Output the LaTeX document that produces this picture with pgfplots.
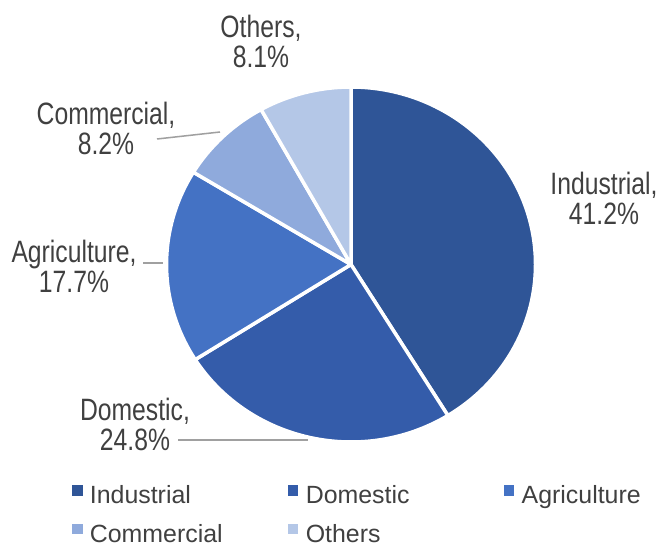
\documentclass[border=0pt]{standalone}
\usepackage{pgfplots}
\pgfplotsset{compat=1.18}
\usepackage{pgfplotstable}
\usepackage{fontspec}
\setmainfont{Liberation Sans}
\newfontfamily\narrow{Liberation Sans}[FakeStretch=0.8]

\definecolor{cInd}{RGB}{47,85,151}
\definecolor{cDom}{RGB}{52,92,170}
\definecolor{cAgr}{RGB}{68,114,196}
\definecolor{cCom}{RGB}{143,170,220}
\definecolor{cOth}{RGB}{180,199,231}
\definecolor{txt}{RGB}{64,64,64}
\definecolor{lead}{RGB}{160,160,160}

\pgfplotstableread{
name value
Industrial 41.2
Domestic 24.8
Agriculture 17.7
Commercial 8.2
Others 8.1
}\piedata

% pie centre and radii (axis units = bp)
\def\cx{351}
\def\cy{281.5}
\def\rx{184.5}
\def\ry{177.5}

\newcommand\getval[2]{\pgfplotstablegetelem{#1}{value}\of\piedata\global\let#2\pgfplotsretval}
\newcommand\pieslice[3]{%
  \fill[#1, draw=white, line width=3.5bp, line join=round]
    (axis cs:\cx,\cy) -- ++(#2:\rx bp and \ry bp)
    arc[start angle=#2, end angle=#3, x radius=\rx bp, y radius=\ry bp] -- cycle;}
\newcommand\lbl[4]{\node[anchor=base, text=txt, inner sep=0pt,
  font=\narrow\fontsize{31}{31}\selectfont] at (axis cs:#1,#2) {#3\vphantom{,}};
  \node[anchor=base, text=txt, inner sep=0pt,
  font=\narrow\fontsize{31}{31}\selectfont] at (axis cs:#1,#2-30) {#4};}

\begin{document}
\getval{0}\vInd
\getval{1}\vDom
\getval{2}\vAgr
\getval{3}\vCom
\getval{4}\vOth
% clockwise from 12 o'clock
\pgfmathsetmacro\aInd{90-3.6*\vInd}\global\let\aInd\aInd
\pgfmathsetmacro\aDom{\aInd-3.6*\vDom}\global\let\aDom\aDom
\pgfmathsetmacro\aAgr{\aDom-3.6*\vAgr}\global\let\aAgr\aAgr
\pgfmathsetmacro\aCom{\aAgr-3.6*\vCom}\global\let\aCom\aCom
\pgfmathsetmacro\aOth{\aCom-3.6*\vOth}\global\let\aOth\aOth
\begin{tikzpicture}
\begin{axis}[
    width=659bp, height=546bp, scale only axis,
    xmin=0, xmax=659, ymin=0, ymax=546,
    hide axis, clip=false,
    legend image code/.code={\fill[#1] (0bp,3bp) rectangle (9.5bp,12.5bp);},
    legend columns=3,
    legend style={at={(axis cs:72,61)}, anchor=north west, draw=none, fill=none,
      inner sep=0pt, outer sep=0pt,
      row sep=14bp, text=txt,
      font=\fontsize{25}{25}\selectfont,
      /tikz/every odd column/.append style={column sep=8bp},
      /tikz/every even column/.append style={column sep=6bp},
      nodes={inner sep=0pt, text height=18bp, text depth=6bp}},
  ]
  \addlegendimage{cInd}\addlegendentry{\makebox[192bp][l]{Industrial}}
  \addlegendimage{cDom}\addlegendentry{\makebox[192bp][l]{Domestic}}
  \addlegendimage{cAgr}\addlegendentry{\makebox[120bp][l]{Agriculture}}
  \addlegendimage{cCom}\addlegendentry{\makebox[192bp][l]{Commercial}}
  \addlegendimage{cOth}\addlegendentry{\makebox[192bp][l]{Others}}

  % keep the full frame as the picture's extent
  \path (axis cs:0,0) (axis cs:659,546);

  \pieslice{cInd}{90}{\aInd}
  \pieslice{cDom}{\aInd}{\aDom}
  \pieslice{cAgr}{\aDom}{\aAgr}
  \pieslice{cCom}{\aAgr}{\aCom}
  \pieslice{cOth}{\aCom}{\aOth}

  % leader lines
  \draw[lead, line width=1.5bp] (axis cs:157,407) -- (axis cs:220,414);
  \draw[lead, line width=1.5bp] (axis cs:143,283) -- (axis cs:163,283);
  \draw[lead, line width=1.5bp] (axis cs:178,106) -- (axis cs:308,106);

  % data labels (centre x, baseline y)
  \lbl{261}{508}{Others,}{8.1\%}
  \lbl{106}{421}{Commercial,}{8.2\%}
  \lbl{74}{283}{Agriculture,}{17.7\%}
  \lbl{604}{351}{Industrial,}{41.2\%}
  \lbl{135}{125}{Domestic,}{24.8\%}
\end{axis}
\end{tikzpicture}
\end{document}
